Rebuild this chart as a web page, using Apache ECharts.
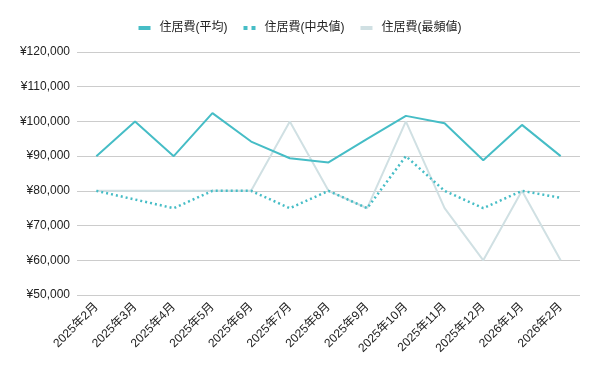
<!DOCTYPE html>
<html><head><meta charset="utf-8">
<script src="https://cdn.jsdelivr.net/npm/echarts@6/dist/echarts.min.js"></script>
<style>html,body{margin:0;padding:0;background:#fff}#c{width:600px;height:371px}</style>
</head><body><div id="c"></div>
<script>
const categories = ['2025年2月','2025年3月','2025年4月','2025年5月','2025年6月','2025年7月','2025年8月','2025年9月','2025年10月','2025年11月','2025年12月','2026年1月','2026年2月'];
const seriesNames = ['住居費(平均)','住居費(中央値)','住居費(最頻値)'];
const avgValues = [90000,100000,90000,102400,94200,89400,88200,95000,101600,99500,88800,99000,90000];
const medianValues = [80000,77500,75000,80000,80000,75000,80000,75000,90000,80000,75000,80000,78000];
const modeValues = [80000,80000,80000,80000,80000,100000,80000,75000,100000,75000,60000,80000,60000];
const yMin = 50000, yMax = 120000, yStep = 10000;

const chart = echarts.init(document.getElementById('c'));
const font = 'Arial, "Liberation Sans", "Noto Sans CJK JP", sans-serif';
chart.setOption({
  animation: false,
  legend: {
    top: 17, left: 'center', itemGap: 16, itemWidth: 12, itemHeight: 4,
    textStyle: {fontFamily: font, fontSize: 12, color: '#222', padding: [0, 0, 0, 4]},
    data: [
      {name: seriesNames[0], icon: 'rect'},
      {name: seriesNames[1], icon: 'path://M0,0h4v4h-4zM8,0h4v4h-4z'},
      {name: seriesNames[2], icon: 'rect'}
    ]
  },
  grid: {left: 77, right: 20, top: 52, bottom: 76},
  xAxis: {
    type: 'category', data: categories, boundaryGap: true,
    axisLine: {show: false}, axisTick: {show: false},
    axisLabel: {rotate: 45, fontFamily: font, fontSize: 12, color: '#222', margin: 10, interval: 0}
  },
  yAxis: {
    type: 'value', min: yMin, max: yMax, interval: yStep,
    axisLine: {show: false}, axisTick: {show: false},
    splitLine: {lineStyle: {color: '#cccccc', width: 1}},
    axisLabel: {fontFamily: font, fontSize: 12, color: '#222', margin: 7,
      formatter: v => '¥' + v.toLocaleString('en-US')}
  },
  series: [
    {name: seriesNames[2], type: 'line', data: modeValues, symbol: 'none',
      lineStyle: {color: '#d0e0e3', width: 2}, itemStyle: {color: '#d0e0e3'}, z: 1},
    {name: seriesNames[1], type: 'line', data: medianValues, symbol: 'none',
      lineStyle: {color: '#46bdc6', width: 2.5, type: [2, 3]}, itemStyle: {color: '#46bdc6'}, z: 2},
    {name: seriesNames[0], type: 'line', data: avgValues, symbol: 'none',
      lineStyle: {color: '#46bdc6', width: 2}, itemStyle: {color: '#46bdc6'}, z: 3}
  ]
});
</script></body></html>
